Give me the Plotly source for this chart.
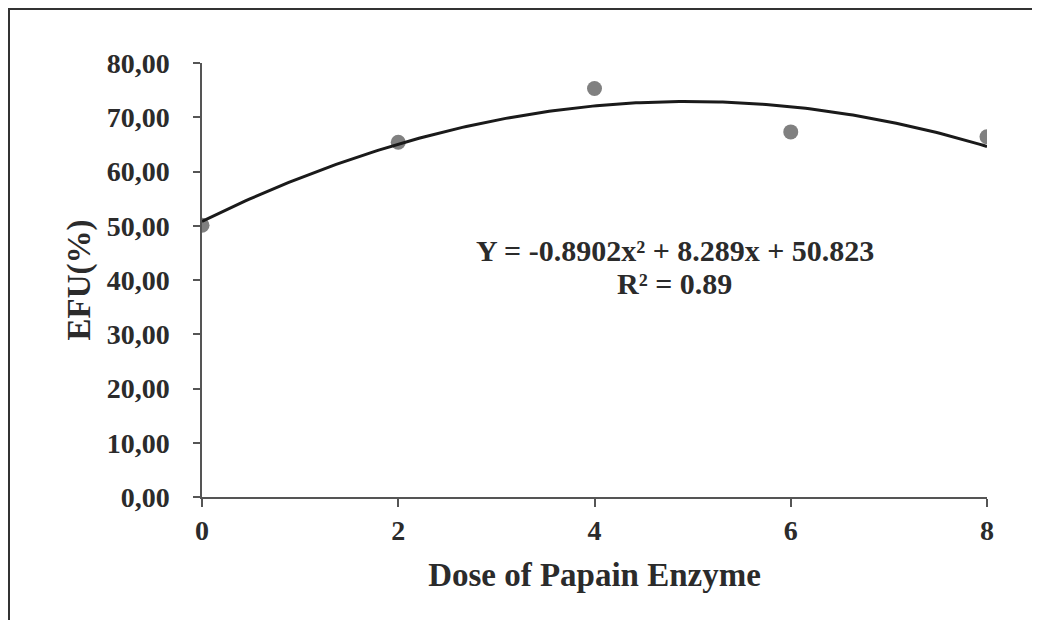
import numpy as np
import plotly.graph_objects as go

# Data
doses = [0, 2, 4, 6, 8]
efu = [50.1, 65.4, 75.3, 67.3, 66.4]
y_ticks = [0, 10, 20, 30, 40, 50, 60, 70, 80]
y_tick_labels = ["0,00", "10,00", "20,00", "30,00", "40,00", "50,00", "60,00", "70,00", "80,00"]
x_ticks = [0, 2, 4, 6, 8]
equation_text = "Y = -0.8902x² + 8.289x + 50.823"
r2_text = "R² = 0.89"

# Quadratic trendline fitted to the data
coef = np.polyfit(doses, efu, 2)
xs = np.linspace(0, 8, 200)
ys = np.polyval(coef, xs)

# page has an 8px body margin, keep the figure inside the window (no scrollbars)
W, H = 1032, 612
ml, mr, mt, mb = 194, 53, 55, 123
pw, ph = W - ml - mr, H - mt - mb

FONT = "Liberation Serif"
TXT = "#2b2b2b"

fig = go.Figure()
fig.add_trace(go.Scatter(x=doses, y=efu, mode="markers",
                         marker=dict(color="#808080", size=15), showlegend=False))
fig.add_trace(go.Scatter(x=xs, y=ys, mode="lines",
                         line=dict(color="#1a1a1a", width=3), showlegend=False))

def px_x(p):
    return (p - ml) / pw

def px_y(p):
    return (H - mb - p) / ph

# frame (top and left edges only)
fig.add_shape(type="path", xref="paper", yref="paper",
              path=f"M {px_x(1)},{px_y(H)} L {px_x(1)},{px_y(1)} L {px_x(W)},{px_y(1)}",
              line=dict(color="#333333", width=2))

fig.add_annotation(x=4.82, y=45.4, text=equation_text, showarrow=False,
                   font=dict(family=FONT, size=30, color=TXT), xanchor="center", yanchor="middle")
fig.add_annotation(x=4.82, y=39.3, text=r2_text, showarrow=False,
                   font=dict(family=FONT, size=30, color=TXT), xanchor="center", yanchor="middle")

fig.update_layout(
    width=W, height=H,
    margin=dict(l=ml, r=mr, t=mt, b=mb),
    paper_bgcolor="white", plot_bgcolor="white",
    font=dict(family=FONT, color=TXT),
    xaxis=dict(range=[0, 8], tickvals=x_ticks, ticktext=[str(v) for v in x_ticks],
               showgrid=False, zeroline=False, showline=True, linecolor="#555555", linewidth=1.5,
               ticks="outside", ticklen=8, tickcolor="#555555", tickwidth=1.5,
               tickfont=dict(family=FONT, size=28, color=TXT, weight="bold"),
               title=dict(text="<b>Dose of Papain Enzyme</b>", font=dict(family=FONT, size=33, color=TXT),
                          standoff=18)),
    yaxis=dict(range=[0, 80], tickvals=y_ticks, ticktext=y_tick_labels,
               showgrid=False, zeroline=False, showline=True, linecolor="#555555", linewidth=1.5,
               ticks="outside", ticklen=7, tickcolor="#555555", tickwidth=1.5,
               ticklabelstandoff=18,
               tickfont=dict(family=FONT, size=28, color=TXT, weight="bold"),
               title=dict(text="<b>EFU(%)</b>", font=dict(family=FONT, size=33, color=TXT),
                          standoff=6)),
)
fig.update_annotations(font_weight="bold")

fig.write_html("out.html")
